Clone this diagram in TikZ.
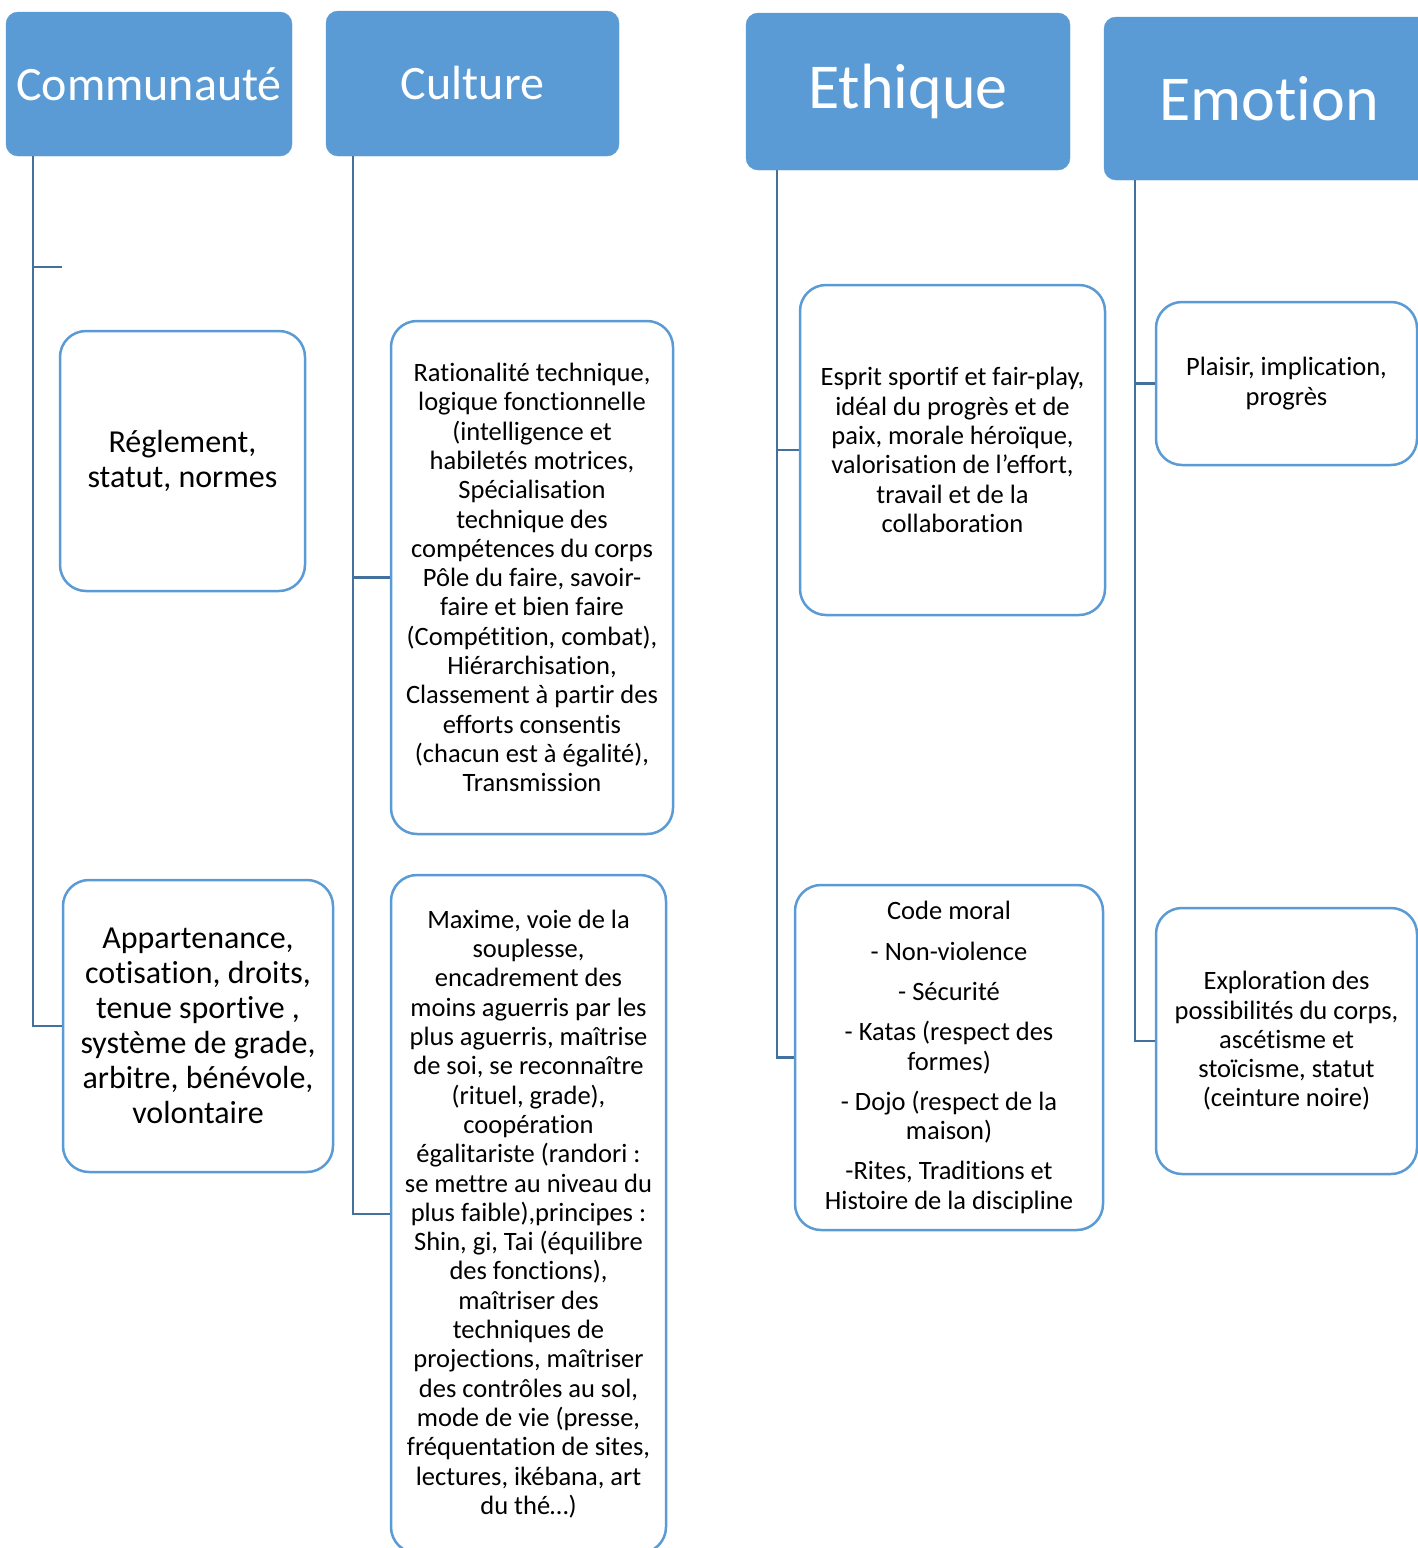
\documentclass[tikz,border=0pt]{standalone}
\usepackage{fontspec}
\setmainfont{Carlito}[RawFeature={-liga;-clig;-calt;-dlig}]
\usepackage{tikz}
\usetikzlibrary{positioning,calc}
\definecolor{hdrblue}{HTML}{5B9BD5}
\definecolor{lnkblue}{HTML}{41719C}

\begin{document}
\begin{tikzpicture}[x=1pt,y=-1pt]
          \tikzstyle{hnode} = [draw=hdrblue, fill=hdrblue, rounded corners=12pt, text=white, align=center]
          \tikzstyle{bnode} = [draw=hdrblue, line width=2.5pt, fill=white, rounded corners=26pt, align=center, inner sep=0pt]
          \tikzstyle{link} = [draw=lnkblue, line width=2.5pt]
          \tikzstyle{small} = [font={\fontsize{26.5}{29.3}\selectfont}]
          \tikzstyle{large} = [font={\fontsize{32}{35}\selectfont}]

          \useasboundingbox (0,0) rectangle (1418,1548);
          \clip (0,0) rectangle (1418,1548);

          % column heads
          \node[hnode, minimum width=286, minimum height=144, font={\fontsize{48}{56}\selectfont}] (comm) at (149,84) {Communauté};
          \node[hnode, minimum width=293, minimum height=145, font={\fontsize{48}{56}\selectfont}] (cult) at (472.5,83.5) {Culture};
          \node[hnode, minimum width=324, minimum height=157, font={\fontsize{64}{72}\selectfont}] (ethi) at (908,91.5) {Ethique};
          \node[hnode, minimum width=330, minimum height=163, font={\fontsize{64}{72}\selectfont}] (emot) at (1269,98.5) {Emotion};

          % boxes under each head
          \node[bnode, large, minimum width=245, minimum height=260] (regl) at (182.5,461) {Réglement,\\ statut, normes};
          \node[bnode, large, minimum width=270, minimum height=292] (appart) at (198,1026) {Appartenance,\\ cotisation, droits,\\ tenue sportive ,\\ système de grade,\\ arbitre, bénévole,\\ volontaire};

          \node[bnode, small, minimum width=282, minimum height=513] (ratio) at (532,577.5) {Rationalité technique,\\ logique fonctionnelle\\ (intelligence et\\ habiletés motrices,\\ Spécialisation\\ technique des\\ compétences du corps\\ Pôle du faire, savoir-\\ faire et bien faire\\ (Compétition, combat),\\ Hiérarchisation,\\ Classement à partir des\\ efforts consentis\\ (chacun est à égalité),\\ Transmission};
          \node[bnode, small, minimum width=275, minimum height=678] (maxi) at (528.5,1214) {Maxime, voie de la\\ souplesse,\\ encadrement des\\ moins aguerris par les\\ plus aguerris, maîtrise\\ de soi, se reconnaître\\ (rituel, grade),\\ coopération\\ égalitariste (randori :\\ se mettre au niveau du\\ plus faible),principes :\\ Shin, gi, Tai (équilibre\\ des fonctions),\\ maîtriser des\\ techniques de\\ projections, maîtriser\\ des contrôles au sol,\\ mode de vie (presse,\\ fréquentation de sites,\\ lectures, ikébana, art\\ du thé…)};

          \node[bnode, small, minimum width=305, minimum height=330] (esprit) at (952.5,450) {Esprit sportif et fair-play,\\ idéal du progrès et de\\ paix, morale héroïque,\\ valorisation de l’effort,\\ travail et de la\\ collaboration};
          \node[bnode, small, minimum width=308, minimum height=345] (code) at (949,1057.5) {Code moral\\[11pt] - Non-violence\\[11pt] - Sécurité\\[11pt] - Katas (respect des\\ formes)\\[11pt] - Dojo (respect de la\\ maison)\\[11pt] -Rites, Traditions et\\ Histoire de la discipline};

          \node[bnode, small, minimum width=261, minimum height=163] (plais) at (1286.5,383.5) {Plaisir, implication,\\ progrès};
          \node[bnode, small, minimum width=261, minimum height=266] (explo) at (1286.5,1041) {Exploration des\\ possibilités du corps,\\ ascétisme et\\ stoïcisme, statut\\ (ceinture noire)};

          % connectors
          \coordinate (stub) at (62,267);
          \draw[link] ([xshift=27pt]comm.south west) |- (stub);
          \draw[link] ([xshift=27pt]comm.south west) |- (appart.west);
          \draw[link] ([xshift=27pt]cult.south west) |- (ratio.west);
          \draw[link] ([xshift=27pt]cult.south west) |- (maxi.west);
          \draw[link] ([xshift=31pt]ethi.south west) |- (esprit.west);
          \draw[link] ([xshift=31pt]ethi.south west) |- (code.west);
          \draw[link] ([xshift=31pt]emot.south west) |- (plais.west);
          \draw[link] ([xshift=31pt]emot.south west) |- (explo.west);
        \end{tikzpicture}
\end{document}
